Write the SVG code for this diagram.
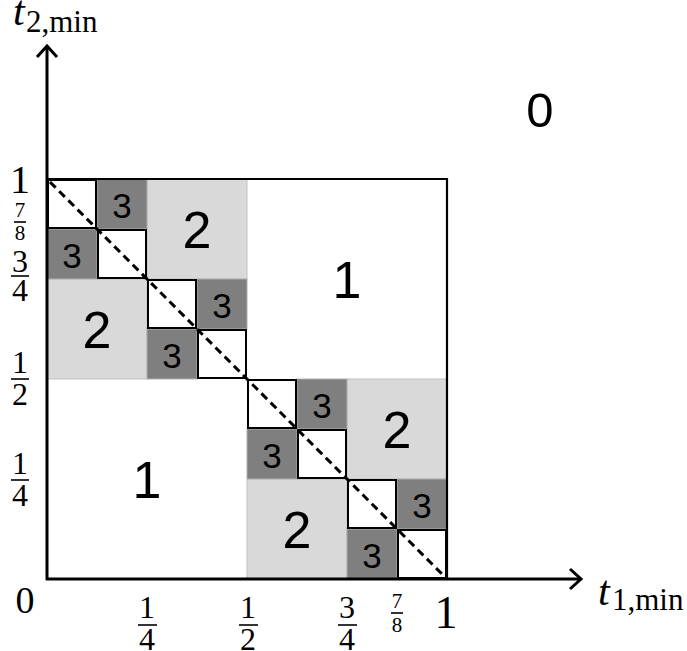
<svg xmlns="http://www.w3.org/2000/svg" width="687" height="651" viewBox="0 0 687 651">
<style>
.lt{fill:#d9d9d9;stroke:#c0c0c0;stroke-width:1}
.dk{fill:#7f7f7f;stroke:#b0b0b0;stroke-width:1}
.wh{fill:#fff;stroke:#000;stroke-width:2}
.n{font-family:"Liberation Sans",Arial,sans-serif;fill:#000;text-anchor:middle}
.s{font-family:"Liberation Serif","Times New Roman",serif;fill:#000;text-anchor:middle}
.it{font-family:"Liberation Serif","Times New Roman",serif;font-style:italic;fill:#000}
.sub{font-family:"Liberation Serif","Times New Roman",serif;fill:#000}
.bar{stroke:#000;stroke-width:1.6}
.ax{stroke:#000;stroke-width:3;fill:none}
</style>
<rect width="687" height="651" fill="#fff"/>
<g id="regions">
<rect class="lt" x="147" y="179" width="100" height="100"/>
<rect class="lt" x="47" y="279" width="100" height="100"/>
<rect class="lt" x="347" y="379" width="100" height="100"/>
<rect class="lt" x="247" y="479" width="100" height="100"/>
<rect class="dk" x="97" y="179" width="50" height="50"/>
<rect class="dk" x="47" y="229" width="50" height="50"/>
<rect class="dk" x="197" y="279" width="50" height="50"/>
<rect class="dk" x="147" y="329" width="50" height="50"/>
<rect class="dk" x="297" y="379" width="50" height="50"/>
<rect class="dk" x="247" y="429" width="50" height="50"/>
<rect class="dk" x="397" y="479" width="50" height="50"/>
<rect class="dk" x="347" y="529" width="50" height="50"/>
<rect class="wh" x="48" y="180" width="48" height="48"/>
<rect class="wh" x="98" y="230" width="48" height="48"/>
<rect class="wh" x="148" y="280" width="48" height="48"/>
<rect class="wh" x="198" y="330" width="48" height="48"/>
<rect class="wh" x="248" y="380" width="48" height="48"/>
<rect class="wh" x="298" y="430" width="48" height="48"/>
<rect class="wh" x="348" y="480" width="48" height="48"/>
<rect class="wh" x="398" y="530" width="48" height="48"/>
</g>
<g id="square">
<polyline points="47,179 447,179 447,579" fill="none" stroke="#000" stroke-width="2.2"/>
</g>
<g id="connectors">
<line x1="50" y1="182" x2="445" y2="577" stroke="#000" stroke-width="3" stroke-dasharray="8 5"/>
<line class="ax" x1="47" y1="580" x2="47" y2="46"/>
<polyline class="ax" points="37,57 47,46 57,57"/>
<line class="ax" x1="46" y1="579" x2="581" y2="579"/>
<polyline class="ax" points="570,569 581,579 570,589"/>
</g>
<g id="values">
<text class="n" x="122" y="218" font-size="35">3</text>
<text class="n" x="72" y="268" font-size="35">3</text>
<text class="n" x="222" y="318" font-size="35">3</text>
<text class="n" x="172" y="368" font-size="35">3</text>
<text class="n" x="322" y="418" font-size="35">3</text>
<text class="n" x="272" y="468" font-size="35">3</text>
<text class="n" x="422" y="518" font-size="35">3</text>
<text class="n" x="372" y="568" font-size="35">3</text>
<text class="n" x="197" y="248" font-size="52">2</text>
<text class="n" x="97" y="348" font-size="52">2</text>
<text class="n" x="397" y="448" font-size="52">2</text>
<text class="n" x="297" y="548" font-size="52">2</text>
<text class="n" x="347" y="298" font-size="52">1</text>
<text class="n" x="147" y="498" font-size="52">1</text>
<text class="n" x="540" y="127" font-size="49">0</text>
</g>
<g id="y-labels">
<text class="s" x="20" y="193" font-size="40">1</text>
<text class="s" x="20" y="217" font-size="21">7</text>
<line class="bar" x1="14" y1="222" x2="26" y2="222"/>
<text class="s" x="20" y="240" font-size="21">8</text>
<text class="s" x="20" y="272" font-size="32">3</text>
<line class="bar" x1="11" y1="276" x2="29" y2="276"/>
<text class="s" x="20" y="301" font-size="32">4</text>
<text class="s" x="20" y="373" font-size="32">1</text>
<line class="bar" x1="11" y1="379" x2="29" y2="379"/>
<text class="s" x="20" y="405" font-size="32">2</text>
<text class="s" x="20" y="474" font-size="32">1</text>
<line class="bar" x1="11" y1="480" x2="29" y2="480"/>
<text class="s" x="20" y="506" font-size="32">4</text>
<text class="s" x="25" y="613" font-size="38">0</text>
</g>
<g id="x-labels">
<text class="s" x="147" y="618" font-size="32">1</text>
<line class="bar" x1="138" y1="625" x2="157" y2="625"/>
<text class="s" x="147" y="650" font-size="32">4</text>
<text class="s" x="248" y="618" font-size="32">1</text>
<line class="bar" x1="239" y1="625" x2="258" y2="625"/>
<text class="s" x="248" y="650" font-size="32">2</text>
<text class="s" x="347" y="618" font-size="32">3</text>
<line class="bar" x1="338" y1="625" x2="357" y2="625"/>
<text class="s" x="347" y="650" font-size="32">4</text>
<text class="s" x="397" y="608" font-size="21">7</text>
<line class="bar" x1="391" y1="613" x2="403" y2="613"/>
<text class="s" x="397" y="632" font-size="21">8</text>
<text class="s" x="446" y="628" font-size="46">1</text>
</g>
<g id="axis-titles">
<text x="13" y="25"><tspan class="it" font-size="42">t</tspan></text>
<text class="sub" x="26" y="32" font-size="31">2,min</text>
<text x="598" y="605"><tspan class="it" font-size="42">t</tspan></text>
<text class="sub" x="612" y="610" font-size="31">1,min</text>
</g>
</svg>
